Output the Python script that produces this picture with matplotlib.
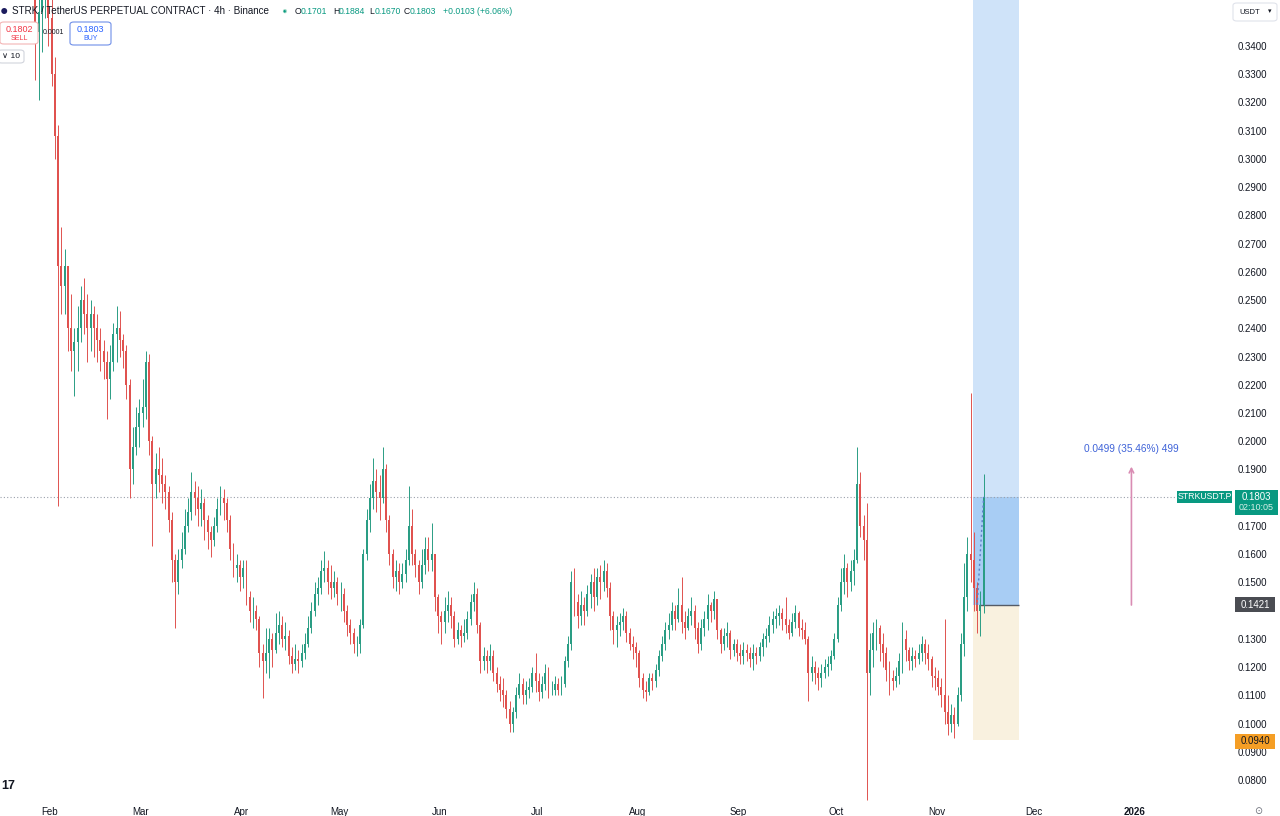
import numpy as np
import pandas as pd
import matplotlib
matplotlib.use('Agg')
import matplotlib.pyplot as plt
import matplotlib.dates as mdates
from matplotlib.patches import Rectangle, FancyBboxPatch

plt.rcParams['font.family'] = ['Liberation Sans', 'DejaVu Sans']

# daily candles, first day 2025-01-27
first_open = 0.375
close = [
    # Jan 27-31
    0.345, 0.352, 0.360, 0.368, 0.350,
    # Feb
    0.330, 0.308, 0.262, 0.255, 0.262, 0.240, 0.232, 0.235, 0.240, 0.250,
    0.245, 0.240, 0.245, 0.240, 0.236, 0.232, 0.228, 0.222, 0.228, 0.238,
    0.240, 0.236, 0.232, 0.220, 0.190, 0.198, 0.205, 0.210,
    # Mar
    0.212, 0.228, 0.200, 0.185, 0.190, 0.188, 0.185, 0.182, 0.172, 0.158,
    0.150, 0.158, 0.162, 0.170, 0.175, 0.182, 0.180, 0.176, 0.178, 0.172,
    0.168, 0.165, 0.170, 0.176, 0.180, 0.178, 0.172, 0.162, 0.155, 0.156, 0.152,
    # Apr
    0.155, 0.145, 0.140, 0.140, 0.137, 0.125, 0.122, 0.125, 0.130, 0.126,
    0.132, 0.135, 0.130, 0.131, 0.124, 0.121, 0.123, 0.122, 0.125, 0.128,
    0.134, 0.140, 0.146, 0.148, 0.154, 0.155, 0.150, 0.148, 0.150, 0.146,
    # May
    0.146, 0.140, 0.135, 0.132, 0.128, 0.128, 0.135, 0.160, 0.172, 0.180,
    0.186, 0.182, 0.180, 0.190, 0.172, 0.160, 0.152, 0.154, 0.150, 0.153,
    0.158, 0.170, 0.160, 0.156, 0.150, 0.156, 0.162, 0.158, 0.160, 0.145, 0.138,
    # Jun
    0.136, 0.140, 0.142, 0.138, 0.130, 0.133, 0.131, 0.132, 0.137, 0.143,
    0.146, 0.135, 0.122, 0.124, 0.122, 0.124, 0.118, 0.114, 0.112, 0.110,
    0.105, 0.100, 0.104, 0.110, 0.114, 0.110, 0.112, 0.113, 0.118, 0.115,
    # Jul
    0.111, 0.114, 0.118, 0.112, 0.112, 0.114, 0.112, 0.114, 0.122, 0.128,
    0.150, 0.143, 0.138, 0.142, 0.140, 0.146, 0.150, 0.145, 0.152, 0.150,
    0.154, 0.148, 0.138, 0.133, 0.135, 0.136, 0.138, 0.132, 0.128, 0.127, 0.125,
    # Aug
    0.116, 0.112, 0.111, 0.116, 0.115, 0.119, 0.124, 0.128, 0.133, 0.135,
    0.140, 0.137, 0.142, 0.136, 0.134, 0.138, 0.140, 0.134, 0.128, 0.134,
    0.137, 0.142, 0.140, 0.144, 0.133, 0.128, 0.131, 0.132, 0.126, 0.128, 0.125,
    # Sep
    0.124, 0.126, 0.125, 0.123, 0.125, 0.124, 0.127, 0.130, 0.131, 0.135,
    0.137, 0.138, 0.139, 0.137, 0.135, 0.132, 0.136, 0.139, 0.134, 0.133,
    0.130, 0.118, 0.120, 0.118, 0.116, 0.118, 0.120, 0.121, 0.124, 0.130,
    # Oct
    0.142, 0.150, 0.155, 0.150, 0.154, 0.158, 0.185, 0.170, 0.165, 0.118,
    0.126, 0.132, 0.134, 0.128, 0.125, 0.119, 0.116, 0.115, 0.117, 0.122,
    0.130, 0.126, 0.122, 0.124, 0.123, 0.125, 0.128, 0.125, 0.123, 0.117, 0.116,
    # Nov 1-15
    0.113, 0.110, 0.104, 0.100, 0.103, 0.100, 0.110, 0.128, 0.145, 0.160,
    0.158, 0.148, 0.140, 0.142, 0.1803,
]
high = [
    0.385, 0.362, 0.370, 0.380, 0.375,
    0.360, 0.336, 0.312, 0.276, 0.268, 0.262, 0.252, 0.240, 0.248, 0.255,
    0.258, 0.252, 0.250, 0.248, 0.245, 0.240, 0.236, 0.232, 0.234, 0.242,
    0.248, 0.246, 0.238, 0.234, 0.222, 0.205, 0.212, 0.215,
    0.222, 0.232, 0.231, 0.202, 0.196, 0.198, 0.194, 0.188, 0.184, 0.175,
    0.160, 0.162, 0.168, 0.176, 0.180, 0.189, 0.186, 0.184, 0.183, 0.180,
    0.174, 0.170, 0.173, 0.180, 0.184, 0.183, 0.180, 0.174, 0.164, 0.160, 0.158,
    0.158, 0.158, 0.147, 0.145, 0.142, 0.138, 0.128, 0.134, 0.134, 0.132,
    0.139, 0.140, 0.138, 0.136, 0.133, 0.127, 0.128, 0.126, 0.128, 0.132,
    0.138, 0.143, 0.150, 0.152, 0.158, 0.161, 0.158, 0.156, 0.154, 0.152,
    0.150, 0.148, 0.142, 0.137, 0.134, 0.131, 0.137, 0.162, 0.176, 0.185,
    0.194, 0.190, 0.188, 0.198, 0.192, 0.174, 0.162, 0.158, 0.157, 0.157,
    0.162, 0.184, 0.176, 0.162, 0.158, 0.162, 0.166, 0.166, 0.171, 0.160, 0.146,
    0.140, 0.145, 0.147, 0.145, 0.140, 0.136, 0.135, 0.137, 0.140, 0.146,
    0.150, 0.148, 0.136, 0.127, 0.126, 0.128, 0.126, 0.120, 0.117, 0.116,
    0.112, 0.108, 0.106, 0.113, 0.118, 0.116, 0.115, 0.116, 0.120, 0.125,
    0.118, 0.117, 0.121, 0.120, 0.115, 0.117, 0.116, 0.117, 0.124, 0.131,
    0.154, 0.155, 0.146, 0.147, 0.145, 0.149, 0.153, 0.155, 0.155, 0.156,
    0.158, 0.157, 0.150, 0.140, 0.138, 0.139, 0.141, 0.140, 0.134, 0.131, 0.129,
    0.126, 0.118, 0.115, 0.118, 0.118, 0.121, 0.126, 0.131, 0.136, 0.139,
    0.143, 0.142, 0.148, 0.152, 0.140, 0.141, 0.145, 0.142, 0.136, 0.137,
    0.140, 0.146, 0.143, 0.147, 0.144, 0.134, 0.134, 0.136, 0.133, 0.130, 0.130,
    0.128, 0.129, 0.128, 0.127, 0.128, 0.127, 0.129, 0.132, 0.134, 0.138,
    0.140, 0.141, 0.142, 0.141, 0.145, 0.137, 0.139, 0.142, 0.140, 0.137,
    0.136, 0.131, 0.124, 0.122, 0.120, 0.121, 0.123, 0.124, 0.126, 0.132,
    0.145, 0.155, 0.160, 0.157, 0.158, 0.162, 0.198, 0.189, 0.174, 0.178,
    0.132, 0.136, 0.137, 0.135, 0.132, 0.127, 0.122, 0.119, 0.120, 0.125,
    0.136, 0.133, 0.127, 0.127, 0.126, 0.128, 0.131, 0.130, 0.128, 0.124, 0.120,
    0.119, 0.116, 0.137, 0.110, 0.107, 0.106, 0.113, 0.132, 0.157, 0.166,
    0.217, 0.168, 0.150, 0.147, 0.1884,
]
low = [
    0.328, 0.321, 0.338, 0.350, 0.340,
    0.326, 0.300, 0.177, 0.245, 0.245, 0.232, 0.225, 0.216, 0.225, 0.235,
    0.238, 0.228, 0.232, 0.230, 0.228, 0.225, 0.222, 0.208, 0.215, 0.225,
    0.228, 0.230, 0.226, 0.215, 0.180, 0.185, 0.195, 0.198,
    0.205, 0.208, 0.195, 0.163, 0.180, 0.182, 0.178, 0.176, 0.168, 0.150,
    0.134, 0.146, 0.155, 0.160, 0.168, 0.172, 0.174, 0.170, 0.170, 0.165,
    0.162, 0.159, 0.163, 0.168, 0.174, 0.172, 0.168, 0.158, 0.152, 0.150, 0.147,
    0.148, 0.142, 0.136, 0.134, 0.133, 0.120, 0.109, 0.118, 0.116, 0.120,
    0.125, 0.128, 0.127, 0.126, 0.121, 0.118, 0.119, 0.118, 0.120, 0.123,
    0.127, 0.132, 0.138, 0.142, 0.146, 0.150, 0.146, 0.144, 0.145, 0.142,
    0.140, 0.136, 0.131, 0.128, 0.125, 0.124, 0.125, 0.134, 0.158, 0.168,
    0.176, 0.175, 0.172, 0.178, 0.168, 0.156, 0.148, 0.147, 0.146, 0.148,
    0.150, 0.156, 0.156, 0.152, 0.146, 0.148, 0.153, 0.154, 0.154, 0.140, 0.132,
    0.128, 0.132, 0.136, 0.134, 0.127, 0.128, 0.127, 0.129, 0.130, 0.135,
    0.140, 0.132, 0.118, 0.119, 0.118, 0.119, 0.115, 0.111, 0.108, 0.106,
    0.102, 0.097, 0.097, 0.102, 0.109, 0.107, 0.107, 0.109, 0.111, 0.111,
    0.108, 0.109, 0.112, 0.109, 0.110, 0.110, 0.110, 0.110, 0.113, 0.120,
    0.126, 0.138, 0.134, 0.135, 0.135, 0.138, 0.141, 0.140, 0.142, 0.144,
    0.147, 0.145, 0.133, 0.128, 0.127, 0.131, 0.133, 0.129, 0.126, 0.123, 0.120,
    0.113, 0.109, 0.108, 0.110, 0.112, 0.113, 0.117, 0.122, 0.126, 0.130,
    0.133, 0.133, 0.136, 0.132, 0.130, 0.133, 0.135, 0.130, 0.125, 0.126,
    0.131, 0.133, 0.136, 0.137, 0.130, 0.125, 0.126, 0.127, 0.123, 0.124, 0.122,
    0.121, 0.121, 0.122, 0.120, 0.119, 0.121, 0.122, 0.124, 0.127, 0.129,
    0.132, 0.134, 0.135, 0.133, 0.132, 0.130, 0.131, 0.134, 0.131, 0.130,
    0.128, 0.108, 0.115, 0.114, 0.112, 0.113, 0.116, 0.117, 0.119, 0.123,
    0.129, 0.140, 0.146, 0.145, 0.147, 0.149, 0.157, 0.166, 0.158, 0.073,
    0.110, 0.120, 0.126, 0.122, 0.120, 0.115, 0.110, 0.112, 0.113, 0.114,
    0.118, 0.122, 0.119, 0.119, 0.120, 0.121, 0.122, 0.121, 0.119, 0.113, 0.112,
    0.110, 0.106, 0.100, 0.096, 0.097, 0.095, 0.099, 0.108, 0.124, 0.140,
    0.150, 0.140, 0.132, 0.131, 0.139,
]

last_price = 0.1803
entry = 0.1421
stop = 0.0940
target = 0.40
pos_start = '2025-11-12 05:00'
pos_end = '2025-11-26 09:00'
ruler_date = '2025-12-31'
ruler_lo, ruler_hi = 0.1410, 0.1920
ruler_text = '0.0499 (35.46%) 499'

months = ['2025-02-01', '2025-03-01', '2025-04-01', '2025-05-01', '2025-06-01',
          '2025-07-01', '2025-08-01', '2025-09-01', '2025-10-01', '2025-11-01',
          '2025-12-01', '2026-01-01']
month_labels = ['Feb', 'Mar', 'Apr', 'May', 'Jun', 'Jul', 'Aug', 'Sep', 'Oct',
                'Nov', 'Dec', '2026']
price_ticks = np.round(np.arange(0.08, 0.3401, 0.01), 2)

UP = '#089981'
DOWN = '#f23645'

dates = pd.date_range('2025-01-27', periods=len(close), freq='D')
xd = mdates.date2num(dates) + 0.5
c = np.array(close)
h = np.array(high)
l = np.array(low)
o = np.r_[first_open, c[:-1]]
col = np.where(c >= o, '#2a9d84', '#e0524f')

W, H = 1280, 816
fig = plt.figure(figsize=(W / 100, H / 100), dpi=100)
ax = fig.add_axes([0, 13 / H, 1228 / W, 803 / H])

# scale: Feb 1 at pixel 50, Dec 1 at pixel 1034
feb1 = mdates.datestr2num('2025-02-01')
dec1 = mdates.datestr2num('2025-12-01')
ppd = (1034 - 50) / (dec1 - feb1)
ax.set_xlim(feb1 - 50 / ppd, feb1 + (1228 - 50) / ppd)
ax.set_ylim(0.08 - 23 / 2823, 0.08 + 780 / 2823)

# position tool
ps = mdates.datestr2num(pos_start)
pe = mdates.datestr2num(pos_end)
ax.add_patch(Rectangle((ps, entry), pe - ps, target - entry, fc='#cfe3f9', ec='none', zorder=1))
ax.add_patch(Rectangle((ps, entry), pe - ps, last_price - entry, fc='#a8cdf4', ec='none', zorder=1.1))
ax.add_patch(Rectangle((ps, stop), pe - ps, entry - stop, fc='#f9f1df', ec='none', zorder=1))
ax.hlines(entry, ps + 2, pe, color='#555b66', lw=1, zorder=1.2)

ax.axhline(last_price, xmax=1175 / 1228, color='#9aa0ab', ls=(0, (1, 2)), lw=0.8, zorder=1.5)

# candles
ax.vlines(xd, l, h, colors=col, lw=0.7, zorder=3)
ax.bar(xd, np.abs(c - o), bottom=np.minimum(o, c), width=0.6, color=col, lw=0, zorder=3)

ax.plot([ps + 1.3, xd[-1]], [entry, last_price], color='#5b7fc7', ls=(0, (1.5, 2)), lw=1, zorder=4)

# ruler
rd = mdates.datestr2num(ruler_date)
ax.annotate('', xy=(rd, ruler_hi), xytext=(rd, ruler_lo),
            arrowprops=dict(arrowstyle='->', color='#d98cb3', lw=1.2, mutation_scale=8), zorder=4)
ax.text(rd, 0.1973, ruler_text, color='#3f63d8', fontsize=7.3, ha='center', va='center', zorder=4)

# axes styling
for s in ax.spines.values():
    s.set_visible(False)
ax.yaxis.tick_right()
ax.set_yticks(price_ticks)
ax.set_yticklabels(['' if p in (0.14, 0.18) else f'{p:.4f}' for p in price_ticks])
ax.tick_params(axis='y', length=0, pad=7, labelsize=7, labelcolor='#131722')
ax.set_xticks(mdates.datestr2num(months))
ax.set_xticklabels(month_labels)
ax.tick_params(axis='x', length=0, pad=3, labelsize=7, labelcolor='#131722')
ax.get_xticklabels()[-1].set_fontweight('bold')
ax.set_facecolor('white')


def fx(px, py):
    return px / W, 1 - py / H


def box(x0, y0, x1, y1, fc, ec='none', rounded=False):
    if rounded:
        p = FancyBboxPatch(fx(x0, y1), (x1 - x0) / W, (y1 - y0) / H,
                           boxstyle='round,pad=0,rounding_size=0.003',
                           transform=fig.transFigure, fc=fc, ec=ec, lw=0.8, zorder=5)
    else:
        p = Rectangle(fx(x0, y1), (x1 - x0) / W, (y1 - y0) / H,
                      transform=fig.transFigure, fc=fc, ec=ec, lw=0.8, zorder=5)
    fig.add_artist(p)


def txt(px, py, s, **kw):
    kw.setdefault('va', 'center')
    kw.setdefault('zorder', 6)
    fig.text(*fx(px, py), s, **kw)


# header
txt(4, 11, '\u25cf', fontsize=10, color='#1c1c5e', ha='center')
txt(12, 11, 'STRK / TetherUS PERPETUAL CONTRACT \u00b7 4h \u00b7 Binance', fontsize=7.1, color='#131722')
txt(284, 11, '\u25cf', fontsize=7, color='#a5dcc9', ha='center')
txt(284, 11, '\u25cf', fontsize=4, color=UP, ha='center')
for xs, lab, val in [(295, 'O', '0.1701'), (333, 'H', '0.1884'), (369, 'L', '0.1670'), (404, 'C', '0.1803')]:
    txt(xs, 11, lab, fontsize=6.2, color='#131722')
    txt(xs + 6, 11, val, fontsize=6.2, color=UP)
txt(443, 11, '+0.0103 (+6.06%)', fontsize=6.2, color=UP)

box(0, 22, 38, 44, 'white', '#f3b4b4', rounded=True)
txt(19, 29, '0.1802', fontsize=6.5, color=DOWN, ha='center')
txt(19, 38, 'SELL', fontsize=5, color=DOWN, ha='center')
txt(43, 33, '0.0001', fontsize=5, color='#131722')
box(70, 22, 111, 45, 'white', '#6f8fe8', rounded=True)
txt(90.5, 29, '0.1803', fontsize=6.5, color='#2962ff', ha='center')
txt(90.5, 38, 'BUY', fontsize=5, color='#2962ff', ha='center')
box(-2, 50, 24, 63, 'white', '#d1d4dc', rounded=True)
txt(2, 57, '\u2228 10', fontsize=6, color='#131722')

box(1233, 3, 1277, 21, 'white', '#e0e3eb', rounded=True)
txt(1239, 12, 'USDT', fontsize=5.5, color='#131722')
txt(1268, 12, '\u25be', fontsize=5, color='#131722')

# price scale labels
box(1177, 491, 1232, 503, UP)
txt(1204.5, 497, 'STRKUSDT.P', fontsize=6.3, color='white', ha='center')
box(1235, 490, 1278, 515, UP)
txt(1256.5, 497, '0.1803', fontsize=7, color='white', ha='center')
txt(1256.5, 508, '02:10:05', fontsize=6.5, color='#d7efe8', ha='center')
box(1235, 597, 1275, 612, '#4a4c52')
txt(1255, 604.5, '0.1421', fontsize=7, color='white', ha='center')
box(1235, 734, 1275, 749, '#f59e25')
txt(1255, 741.5, '0.0940', fontsize=7, color='#131722', ha='center')

txt(1, 786, '17', fontsize=9, fontweight='heavy', color='#131722', ha='left')
txt(1258, 811, '\u2299', fontsize=7, color='#6a6d78', ha='center')

fig.savefig('out.png', dpi=100, facecolor='white')
